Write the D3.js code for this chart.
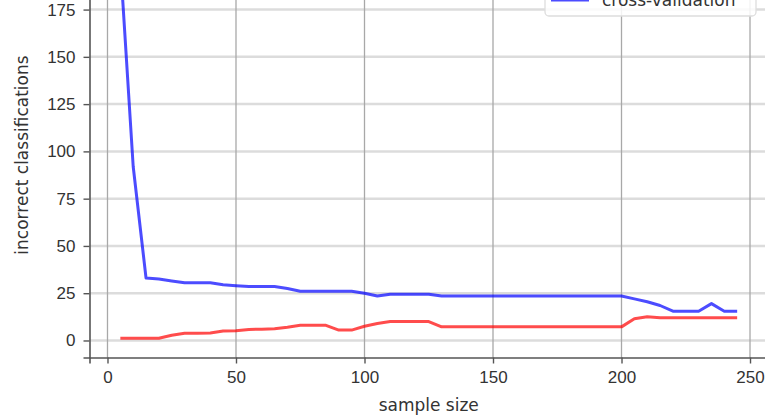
<!DOCTYPE html>
<html lang="en">
  <head>
    <meta charset="utf-8" />
    <title>Incorrect classifications vs sample size</title>
    <script src="https://d3js.org/d3.v7.min.js"></script>
    <style>
      body {
        margin: 0;
        background: #fff;
      }

      svg {
        display: block;
        font-family: "DejaVu Sans", sans-serif;
      }

      .tick text {
        font-size: 17px;
        fill: #333;
      }

      .label {
        font-size: 17px;
        fill: #333;
      }

      .line {
        fill: none;
        stroke-width: 3px;
        stroke-opacity: 0.7;
        stroke-linejoin: round;
      }
    </style>
  </head>
  <body>
    <svg id="chart" width="765" height="418"></svg>

    <script>
      // --------------------------------------------------
      // 1. Data
      // --------------------------------------------------
      const sampleSizes = [
        5, 10, 15, 20, 25, 30, 35, 40, 45, 50, 55, 60, 65, 70, 75, 80, 85, 90,
        95, 100, 105, 110, 115, 120, 125, 130, 135, 140, 145, 150, 155, 160,
        165, 170, 175, 180, 185, 190, 195, 200, 205, 210, 215, 220, 225, 230,
        235, 240, 245
      ];

      const trainingErrors = [
        1.2, 1.2, 1.2, 1.2, 2.8, 3.8, 3.8, 4, 5, 5.2, 5.8, 6, 6.2, 7, 8, 8, 8,
        5.5, 5.5, 7.5, 9, 10, 10, 10, 10, 7.2, 7.2, 7.2, 7.2, 7.2, 7.2, 7.2,
        7.2, 7.2, 7.2, 7.2, 7.2, 7.2, 7.2, 7.2, 11.5, 12.5, 12, 12, 12, 12, 12,
        12, 12
      ];

      const cvErrors = [
        200, 92, 33, 32.5, 31.5, 30.5, 30.5, 30.5, 29.5, 29, 28.5, 28.5, 28.5,
        27.5, 26, 26, 26, 26, 26, 25, 23.5, 24.5, 24.5, 24.5, 24.5, 23.5, 23.5,
        23.5, 23.5, 23.5, 23.5, 23.5, 23.5, 23.5, 23.5, 23.5, 23.5, 23.5, 23.5,
        23.5, 22, 20.5, 18.5, 15.5, 15.5, 15.5, 19.5, 15.5, 15.5
      ];

      const xTicks = [0, 50, 100, 150, 200, 250];
      const yTicks = [0, 25, 50, 75, 100, 125, 150, 175, 200];

      const seriesNames = ["training", "cross-validation"];
      const seriesColors = ["#ff0000", "#0000ff"];

      // --------------------------------------------------
      // 2. Scales (plot area runs past the top/right edge)
      // --------------------------------------------------
      const svg = d3.select("#chart");

      const x = d3.scaleLinear().domain([-7, 257]).range([89.5, 768]);
      const y = d3.scaleLinear().domain([-9, 211]).range([357.5, -58.5]);

      // --------------------------------------------------
      // 3. Grid
      // --------------------------------------------------
      svg
        .append("g")
        .selectAll("line")
        .data(yTicks)
        .enter()
        .append("line")
        .attr("x1", x.range()[0])
        .attr("x2", x.range()[1])
        .attr("y1", (d) => y(d))
        .attr("y2", (d) => y(d))
        .attr("stroke", "#dcdcdc")
        .attr("stroke-width", 2.5);

      svg
        .append("g")
        .selectAll("line")
        .data(xTicks)
        .enter()
        .append("line")
        .attr("x1", (d) => x(d))
        .attr("x2", (d) => x(d))
        .attr("y1", y.range()[0])
        .attr("y2", y.range()[1])
        .attr("stroke", "#a8a8a8")
        .attr("stroke-width", 1.3);

      // --------------------------------------------------
      // 4. Lines
      // --------------------------------------------------
      const line = d3
        .line()
        .x((d) => x(d[0]))
        .y((d) => y(d[1]));

      [trainingErrors, cvErrors].forEach((values, i) => {
        svg
          .append("path")
          .attr("class", "line")
          .attr("stroke", seriesColors[i])
          .attr("d", line(d3.zip(sampleSizes, values)));
      });

      // --------------------------------------------------
      // 5. Axes
      // --------------------------------------------------
      const xAxis = svg
        .append("g")
        .attr("transform", `translate(0,${y.range()[0]})`)
        .call(d3.axisBottom(x).tickValues(xTicks).tickSize(6).tickPadding(6));

      const yAxis = svg
        .append("g")
        .attr("transform", `translate(${x.range()[0]},0)`)
        .call(d3.axisLeft(y).tickValues(yTicks).tickSize(6).tickPadding(8));

      [xAxis, yAxis].forEach((g) => {
        g.select(".domain").attr("stroke", "#555").attr("stroke-width", 1.6);
        g.selectAll(".tick line").attr("stroke", "#555").attr("stroke-width", 1.4);
      });
      xAxis.selectAll(".tick text").attr("dy", "0.78em");

      svg
        .append("text")
        .attr("class", "label")
        .attr("x", (x(0) + x(250)) / 2)
        .attr("y", 411)
        .attr("text-anchor", "middle")
        .text("sample size");

      svg
        .append("text")
        .attr("class", "label")
        .attr("transform", "translate(28,155) rotate(-90)")
        .attr("text-anchor", "middle")
        .text("incorrect classifications");

      // --------------------------------------------------
      // 6. Legend (upper right, mostly cut off)
      // --------------------------------------------------
      const legend = svg.append("g");

      legend
        .append("rect")
        .attr("x", 545)
        .attr("y", -46)
        .attr("width", 211)
        .attr("height", 62)
        .attr("rx", 4)
        .attr("fill", "#fff")
        .attr("fill-opacity", 0.85)
        .attr("stroke", "#dddddd")
        .attr("stroke-width", 1.3);

      seriesNames.forEach((name, i) => {
        const cy = -22 + i * 22;
        legend
          .append("line")
          .attr("x1", 551)
          .attr("x2", 589)
          .attr("y1", cy)
          .attr("y2", cy)
          .attr("stroke", seriesColors[i])
          .attr("stroke-width", 3)
          .attr("stroke-opacity", 0.7);
        legend
          .append("text")
          .attr("class", "label")
          .attr("x", 602)
          .attr("y", cy + 6)
          .text(name);
      });
    </script>
  </body>
</html>
